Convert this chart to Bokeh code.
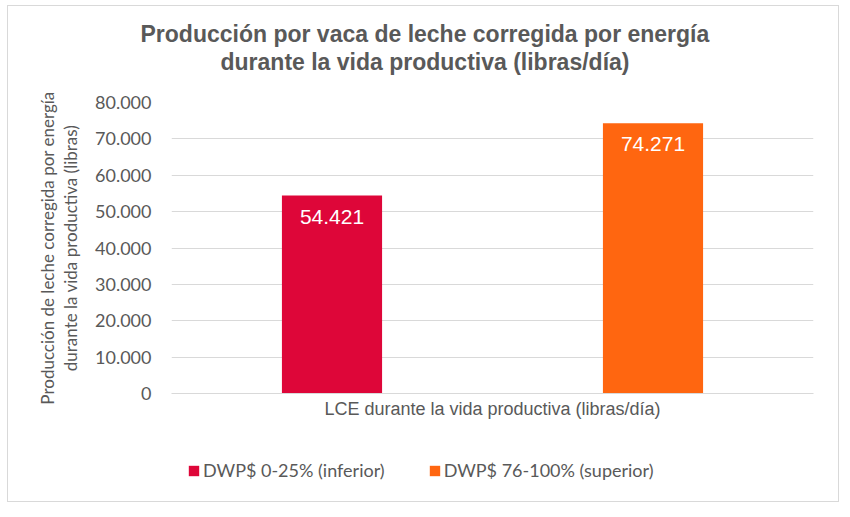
from bokeh.plotting import figure
from bokeh.layouts import column
from bokeh.models import (FactorRange, Range1d, FixedTicker, ColumnDataSource,
                          Legend, LegendItem, Title, LinearAxis)
from bokeh.transform import dodge
from bokeh.core.properties import value
from bokeh.embed import file_html
from bokeh.resources import INLINE

# ---- data ----
title_lines = ["Producción  por vaca de leche corregida  por energía",
               "durante la vida productiva  (libras/día)"]
y_label_lines = ["Producción de leche corregida por energía",
                 "durante la vida productiva (libras)"]
category = "LCE durante la vida productiva (libras/día)"
series_names = ["DWP$ 0-25% (inferior)", "DWP$ 76-100% (superior)"]
series_values = [54.421, 74.271]
series_colors = ["#DE0639", "#FF6610"]
y_ticks = [0, 10, 20, 30, 40, 50, 60, 70, 80]
y_tick_labels = ["0", "10.000", "20.000", "30.000", "40.000",
                 "50.000", "60.000", "70.000", "80.000"]

GRAY = "#595959"
GRID = "#d9d9d9"

p = figure(frame_width=642, frame_height=291,
           x_range=FactorRange(factors=[category], range_padding=0),
           y_range=Range1d(0, 80),
           output_backend="svg", toolbar_location=None,
           min_border_left=170, min_border_right=34,
           min_border_top=102, min_border_bottom=50)
p.outline_line_color = None
p.background_fill_color = None
p.border_fill_color = None

offsets = [-0.25, 0.25]
for v, c, off in zip(series_values, series_colors, offsets):
    src = ColumnDataSource(dict(x=[category], top=[v], label=[f"{v:.3f}"]))
    p.vbar(x=dodge("x", off, range=p.x_range), top="top", width=0.156,
           source=src, fill_color=c, line_color=None)
    p.text(x=dodge("x", off, range=p.x_range), y="top", text="label", source=src,
           text_color="white", text_font=value("Liberation Sans"),
           text_font_size="21px", text_align="center", text_baseline="top",
           y_offset=14)

# axes
p.xaxis.axis_line_color = GRID
p.xaxis.major_tick_line_color = None
p.xaxis.minor_tick_line_color = None
p.xaxis.major_tick_out = 0
p.xaxis.major_label_standoff = 5
p.xaxis.major_label_text_font = "Liberation Sans"
p.xaxis.major_label_text_font_size = "18px"
p.xaxis.major_label_text_color = GRAY

p.yaxis.ticker = FixedTicker(ticks=y_ticks)
p.yaxis.major_label_overrides = dict(zip(y_ticks, y_tick_labels))
p.yaxis.axis_line_color = None
p.yaxis.major_tick_line_color = None
p.yaxis.minor_tick_line_color = None
p.yaxis.major_tick_out = 0
p.yaxis.major_label_standoff = 20
p.yaxis.major_label_text_font = "Lato"
p.yaxis.major_label_text_font_size = "18px"
p.yaxis.major_label_text_color = GRAY
p.yaxis.axis_label = y_label_lines[1]
p.yaxis.axis_label_standoff = 11
p.yaxis.axis_label_text_font = "Lato"
p.yaxis.axis_label_text_font_size = "17px"
p.yaxis.axis_label_text_font_style = "normal"
p.yaxis.axis_label_text_color = GRAY

# outer axis carrying the first line of the y title
ax2 = LinearAxis(ticker=FixedTicker(ticks=[]), axis_label=y_label_lines[0],
                 axis_line_color=None, major_tick_line_color=None,
                 minor_tick_line_color=None, major_tick_out=0,
                 major_label_text_font_size="0px", axis_label_standoff=0,
                 axis_label_text_font="Lato", axis_label_text_font_size="17px",
                 axis_label_text_font_style="normal", axis_label_text_color=GRAY)
p.add_layout(ax2, "left")

p.xgrid.visible = False
p.ygrid.ticker = FixedTicker(ticks=y_ticks)
p.ygrid.grid_line_color = GRID
p.ygrid.grid_line_width = 1

# title: spacer (closest to frame), then line 2, then line 1
p.add_layout(Title(text=" ", standoff=4, text_font_size="20px"), "above")
p.add_layout(Title(text=title_lines[1], align="left", offset=49, standoff=0,
                   text_font="Liberation Sans", text_font_style="bold",
                   text_font_size="23px", text_color=GRAY), "above")
p.add_layout(Title(text=title_lines[0], align="left", offset=-31, standoff=0,
                   text_font="Liberation Sans", text_font_style="bold",
                   text_font_size="23px", text_color=GRAY), "above")

# legend strip below the chart
pl = figure(width=846, height=65, x_range=Range1d(0, 1), y_range=Range1d(0, 1),
            x_axis_type=None, y_axis_type=None, output_backend="svg",
            toolbar_location=None, min_border_left=171, min_border_right=0,
            min_border_top=0, min_border_bottom=0)
pl.outline_line_color = None
pl.background_fill_color = None
pl.border_fill_color = None
items = []
for name, v, c in zip(series_names, series_values, series_colors):
    # zero-height proxy bar: only its colour is shown, as the legend swatch
    src = ColumnDataSource(dict(x=[0], top=[v]))
    r = pl.vbar(x="x", top="top", bottom="top", width=0, source=src,
                fill_color=c, line_color=None)
    items.append(LegendItem(label=name, renderers=[r]))
leg = Legend(items=items, location="top_left", orientation="horizontal",
             glyph_width=13, glyph_height=13, label_height=20,
             label_standoff=3, spacing=43, padding=0, margin=16,
             border_line_color=None, background_fill_alpha=0,
             label_text_font="Lato", label_text_font_size="18px",
             label_text_color=GRAY)
pl.add_layout(leg, "center")

g = "linear-gradient(#d9d9d9,#d9d9d9)"
layout = column(p, pl, spacing=0, styles={
    "background-color": "white",
    "background-image": ", ".join([g] * 4),
    "background-size": "832px 1px, 832px 1px, 1px 497px, 1px 497px",
    "background-position": "7px 5px, 7px 501px, 7px 5px, 838px 5px",
    "background-repeat": "no-repeat",
})

open("out.html", "w").write(file_html(layout, INLINE))
